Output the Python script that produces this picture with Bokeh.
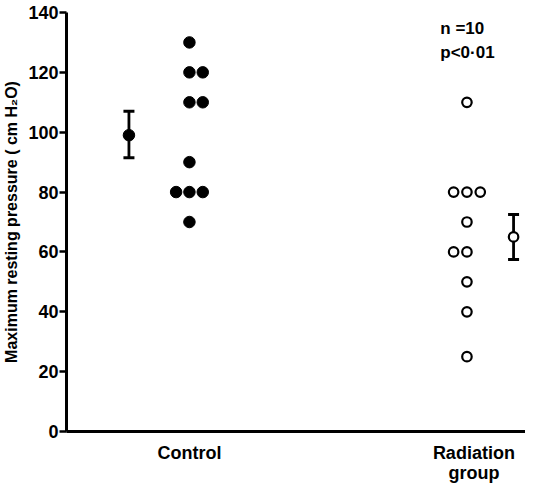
from bokeh.plotting import figure
from bokeh.models import FixedTicker, Range1d, Whisker, ColumnDataSource
from bokeh.core.properties import value
from bokeh.embed import file_html
from bokeh.resources import INLINE

# ---- data ----
groups = ["Control", "Radiation\ngroup"]
control_values = [130, 120, 120, 110, 110, 90, 80, 80, 80, 70]
radiation_values = [110, 80, 80, 80, 70, 60, 60, 50, 40, 25]
control_mean, control_lo, control_hi = 99, 91.5, 107
radiation_mean, radiation_lo, radiation_hi = 65, 57.5, 72.5
y_ticks = [0, 20, 40, 60, 80, 100, 120, 140]
annot = ["n =10", "p<0\u00b701"]

# ---- layout helpers (positions only) ----
GROUP_X = {"control": 1.0, "radiation": 2.0}
SEM_X = {"control": 0.782, "radiation": 2.168}
STEP = 0.048

def spread(vals, center, pair_shift):
    xs = []
    counts = {}
    for v in vals:
        counts[v] = counts.get(v, 0) + 1
    seen = {}
    for v in vals:
        n = counts[v]
        k = seen.get(v, 0)
        seen[v] = k + 1
        if n == 1:
            off = 0
        elif n == 2:
            off = [0, 1][k] + pair_shift
        else:
            off = k - (n - 1) / 2
        xs.append(center + off * STEP)
    return xs

FONT = "Liberation Sans"

p = figure(width=525, height=485, output_backend="svg", toolbar_location=None,
           x_range=Range1d(0.557, 2.211), y_range=Range1d(0, 140),
           min_border_left=62, min_border_top=12, min_border_right=0,
           min_border_bottom=42)
p.outline_line_color = None
p.xgrid.visible = False
p.ygrid.visible = False
p.background_fill_color = "white"
p.border_fill_color = "white"

cx = spread(control_values, GROUP_X["control"], 0)
rx = spread(radiation_values, GROUP_X["radiation"], -1)

p.scatter(cx, control_values, size=11.5, marker="circle", fill_color="black",
          line_color="black")
p.scatter(rx, radiation_values, size=9.5, marker="circle", fill_color="white",
          line_color="black", line_width=2.2)

# mean +/- SE
src = ColumnDataSource(dict(x=[SEM_X["control"], SEM_X["radiation"]],
                            lo=[control_lo, radiation_lo],
                            hi=[control_hi, radiation_hi]))
w = Whisker(source=src, base="x", lower="lo", upper="hi", dimension="height",
            line_width=2.8, line_color="black")
w.upper_head.size = 11
w.lower_head.size = 11
w.upper_head.line_width = 3
w.lower_head.line_width = 3
p.add_layout(w)
p.scatter([SEM_X["control"]], [control_mean], size=11.5, marker="circle",
          fill_color="black", line_color="black")
p.scatter([SEM_X["radiation"]], [radiation_mean], size=9.5, marker="circle",
          fill_color="white", line_color="black", line_width=2.2)

# annotation text
p.text([1.904, 1.904], [134.5, 126.5], text=annot, text_font=value(FONT),
       text_font_style="bold", text_font_size="17px", text_align="left",
       text_baseline="middle", text_color="black")

# y axis
ya = p.yaxis[0]
ya.ticker = FixedTicker(ticks=y_ticks)
ya.axis_line_width = 3
ya.axis_line_color = "black"
ya.major_tick_line_width = 2.5
ya.major_tick_line_color = "black"
ya.major_tick_out = 7
ya.major_tick_in = 0
ya.minor_tick_line_color = None
ya.major_label_text_font = FONT
ya.major_label_text_font_style = "bold"
ya.major_label_text_font_size = "18px"
ya.major_label_text_color = "black"
ya.major_label_standoff = 1
ya.axis_label = "Maximum resting pressure ( cm H\u2082O)"
ya.axis_label_text_font = FONT
ya.axis_label_text_font_style = "bold"
ya.axis_label_text_font_size = "16px"
ya.axis_label_text_color = "black"
ya.axis_label_standoff = 5

# x axis
xa = p.xaxis[0]
xa.ticker = FixedTicker(ticks=[1.0, 2.025])
xa.major_label_overrides = {1.0: groups[0], 2.025: groups[1]}
xa.axis_line_width = 3
xa.axis_line_color = "black"
xa.major_tick_line_color = None
xa.minor_tick_line_color = None
xa.major_label_text_font = FONT
xa.major_label_text_font_style = "bold"
xa.major_label_text_font_size = "18px"
xa.major_label_text_color = "black"
xa.major_label_text_line_height = 1.0
xa.major_label_standoff = 5

open("out.html", "w").write(file_html(p, INLINE))
